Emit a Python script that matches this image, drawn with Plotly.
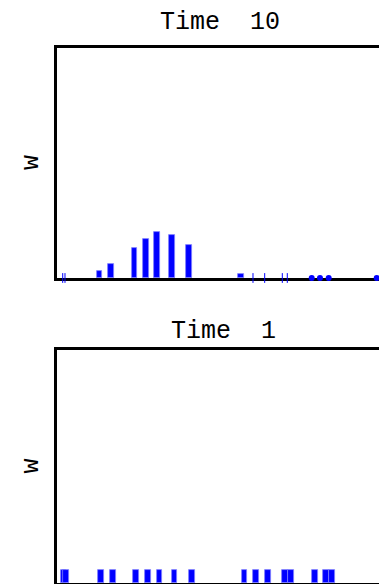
import plotly.graph_objects as go
from plotly.subplots import make_subplots

# ---------------- data (particle positions and weights) ----------------
# Time 10 panel
t10_x = [1.75, 2.45, 13.04, 16.56, 23.77, 27.30, 30.67, 35.28, 40.49, 56.44,
         60.12, 63.71, 69.11, 70.64, 78.13, 80.67, 83.34, 98.07]
t10_w = [0.005, 0.005, 0.032, 0.060, 0.129, 0.171, 0.200, 0.186, 0.143, 0.017,
         0.005, 0.005, 0.005, 0.005, 0.0005, 0.0005, 0.0005, 0.0005]

# Time 1 panel
t1_x = [1.99, 2.76, 13.50, 17.18, 24.23, 27.91, 31.44, 36.04, 41.41, 57.52,
        61.04, 64.72, 69.94, 71.78, 79.14, 82.52, 84.36, 100.0]
t1_w = [0.0556, 0.0556, 0.0556, 0.0556, 0.0556, 0.0556, 0.0556, 0.0556, 0.0556,
        0.0556, 0.0556, 0.0556, 0.0556, 0.0556, 0.0556, 0.0556, 0.0556, 0.0556]

titles = ["Time\u00a0 10", "Time\u00a0 1"]
ylabel = "w"

# ---------------- figure ----------------
W, H = 379, 584
ML = 57
PW = W - ML
FONT = "Liberation Mono, Courier New, monospace"
BLUE = "#0000ff"

fig = make_subplots(rows=2, cols=1)


def add_panel(xs, ws, row):
    bx = [x for x, w in zip(xs, ws) if w >= 0.01]
    bw = [w for w in ws if w >= 0.01]
    lx = [x for x, w in zip(xs, ws) if 0.002 <= w < 0.01]
    dx = [x for x, w in zip(xs, ws) if w < 0.002]
    fig.add_trace(go.Bar(x=bx, y=bw, width=1.75,
                         marker=dict(color=BLUE, line=dict(color="#7f7fff", width=0.8)),
                         showlegend=False), row=row, col=1)
    if lx:
        fig.add_trace(go.Scatter(x=lx, y=[0] * len(lx), mode="markers",
                                 marker=dict(symbol="line-ns", size=7,
                                             line=dict(color=BLUE, width=1)),
                                 cliponaxis=False, showlegend=False), row=row, col=1)
    if dx:
        fig.add_trace(go.Scatter(x=dx, y=[0] * len(dx), mode="markers",
                                 marker=dict(symbol="circle", size=6, color=BLUE),
                                 cliponaxis=False, showlegend=False), row=row, col=1)


add_panel(t10_x, t10_w, 1)
add_panel(t1_x, t1_w, 2)

xr = [0, 100 * PW / 326]
axis_common = dict(showgrid=False, zeroline=False, showticklabels=False, ticks="",
                   showline=True, linecolor="black", linewidth=2.5,
                   layer="below traces")

fig.update_xaxes(range=xr, mirror=True, **axis_common)
fig.update_yaxes(range=[0, 1], mirror=False, **axis_common)

# panel domains in pixels (top, bottom)
panels = [(48, 278), (350, 583)]
fig.update_layout(
    yaxis=dict(domain=[1 - panels[0][1] / H, 1 - panels[0][0] / H]),
    yaxis2=dict(domain=[1 - panels[1][1] / H, 1 - panels[1][0] / H]),
)

title_pos = [(220, 22), (223, 331)]
for (tx, ty), t in zip(title_pos, titles):
    fig.add_annotation(text=t, xref="paper", yref="paper",
                       x=(tx - ML) / PW, y=1 - ty / H, showarrow=False,
                       xanchor="center", yanchor="middle",
                       font=dict(family=FONT, size=25, color="black"))

for (top, bot) in panels:
    fig.add_annotation(text=ylabel, xref="paper", yref="paper",
                       x=(31 - ML) / PW, y=1 - (top + bot) / 2 / H, showarrow=False,
                       textangle=-90, xanchor="center", yanchor="middle",
                       font=dict(family=FONT, size=25, color="black"))

fig.update_layout(width=W, height=H, margin=dict(l=ML, r=0, t=0, b=0),
                  plot_bgcolor="white", paper_bgcolor="white",
                  bargap=0, showlegend=False)

fig.write_html("out.html")
